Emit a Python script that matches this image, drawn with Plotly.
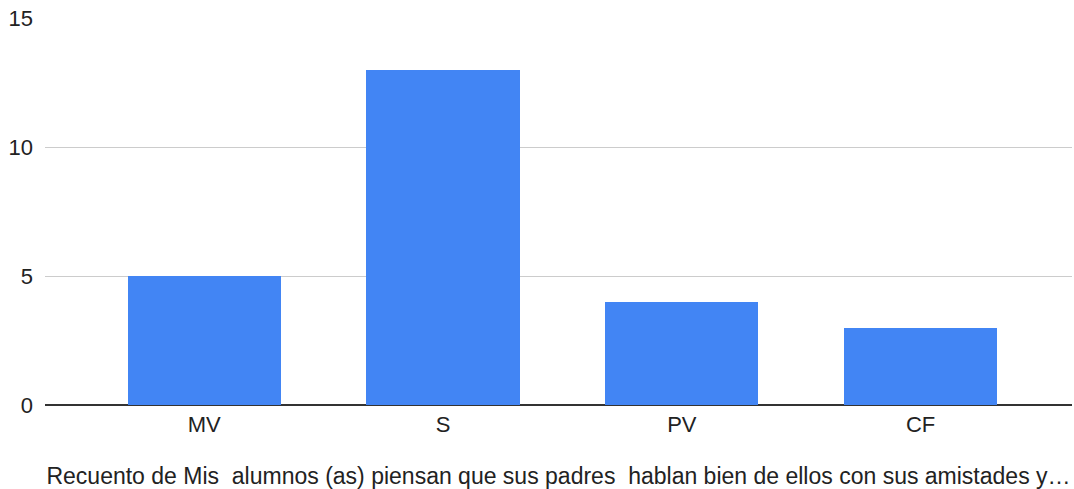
import plotly.graph_objects as go

categories = ["MV", "S", "PV", "CF"]
counts = [5, 13, 4, 3]
y_ticks = [0, 5, 10, 15]
x_title = "Recuento de Mis\u00a0\u00a0alumnos (as) piensan que sus padres\u00a0\u00a0hablan bien de ellos con sus amistades y\u2026"

fig = go.Figure(
    go.Bar(
        x=list(range(len(categories))),
        y=counts,
        marker=dict(color="#4285F4", line=dict(width=0)),
        width=0.642,
    )
)

fig.update_layout(
    width=1074,
    height=489,
    margin=dict(l=45, r=2, t=18, b=84),
    paper_bgcolor="white",
    plot_bgcolor="white",
    font=dict(family="Liberation Sans, Arial, sans-serif", size=22, color="#222222"),
    showlegend=False,
    bargap=0,
)

fig.update_xaxes(
    range=[-0.667, 3.634],
    tickmode="array",
    tickvals=list(range(len(categories))),
    ticktext=categories,
    tickfont=dict(size=22),
    showgrid=False,
    showline=False,
    zeroline=False,
    ticks="",
    ticklabelstandoff=4,
    title=dict(text=x_title, font=dict(size=23, color="#222222"), standoff=32),
)

fig.update_yaxes(
    range=[0, 15],
    tickvals=y_ticks,
    tickfont=dict(size=22),
    showgrid=True,
    gridcolor="#cccccc",
    gridwidth=1,
    zeroline=True,
    zerolinecolor="#333333",
    zerolinewidth=2,
    showline=False,
    ticks="",
    ticklabelstandoff=11,
)

fig.write_html("out.html")
